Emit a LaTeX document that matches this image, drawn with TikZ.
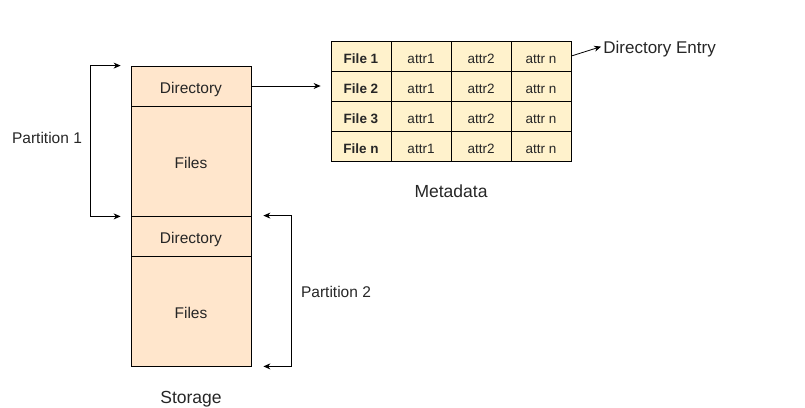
\documentclass[tikz,border=0pt]{standalone}
\usepackage{fontspec}
\setmainfont{Liberation Sans}
\usetikzlibrary{arrows.meta}
\definecolor{storefill}{HTML}{FFE6CC}
\definecolor{metafill}{HTML}{FFF2CC}
\tikzset{
  block/.style={draw, fill=storefill, minimum width=120pt, inner sep=0pt,
    text height=15pt, text depth=0pt, text=black!85, font=\fontsize{15.5}{17}\selectfont},
  cell/.style={draw, fill=metafill, minimum width=60pt, minimum height=30pt,
    inner sep=0pt, text height=15pt, text depth=0pt, text=black!85, font=\fontsize{13.5}{15}\selectfont},
  lbl/.style={text=black!85, inner sep=0pt, text height=15pt, text depth=0pt,
    font=\fontsize{15.5}{17}\selectfont},
  arr/.style={-{Stealth[length=7pt,width=6pt]}, line width=0.8pt},
}
\begin{document}
\begin{tikzpicture}[x=1pt,y=-1pt,line width=0.8pt]
    \useasboundingbox (0,0) rectangle (805,407);

    % storage column
    \node[block, minimum height=40pt] (dir1) at (191,86) {Directory};
    \node[block, minimum height=110pt] (files1) at (191,161) {Files};
    \node[block, minimum height=40pt] (dir2) at (191,236) {Directory};
    \node[block, minimum height=110pt] (files2) at (191,311) {Files};

    % metadata table
    \foreach [count=\r] \f in {File 1,File 2,File 3,File n} {
            \node[cell, font=\fontsize{13.5}{15}\selectfont\bfseries] (c\r0) at (361, 26 + 30*\r) {\f};
            \node[cell] (c\r1) at (421, 26 + 30*\r) {attr1};
            \node[cell] (c\r2) at (481, 26 + 30*\r) {attr2};
            \node[cell] (c\r3) at (541, 26 + 30*\r) {attr n};
        }

    \node[lbl, anchor=west, font=\fontsize{17}{19}\selectfont] (entry) at (603,46) {Directory Entry};
    \node[lbl, font=\fontsize{17.5}{19}\selectfont] (meta) at (451,190) {Metadata};
    \node[lbl, font=\fontsize{17.5}{19}\selectfont] (store) at (191,396) {Storage};
    \node[lbl] (part1) at (47,135.5) {Partition 1};
    \node[lbl] (part2) at (336,290) {Partition 2};

    % connectors
    \draw[arr, shorten >=10pt] (dir1.east) -- (c20.west);
    \draw[arr, shorten >=2pt] (c13.east) -- (entry.west);

    \draw[arr, arrows={{Stealth[length=7pt,width=6pt]}-{Stealth[length=7pt,width=6pt]}}]
        ([xshift=-10pt]dir1.north west) -- ++(-30,0) |- ([xshift=-10pt]files1.south west);
    \draw[arr, arrows={{Stealth[length=7pt,width=6pt]}-{Stealth[length=7pt,width=6pt]}}]
        ([xshift=12pt]dir2.north east) -- ++(28,0) |- ([xshift=12pt]files2.south east);

\end{tikzpicture}
\end{document}
